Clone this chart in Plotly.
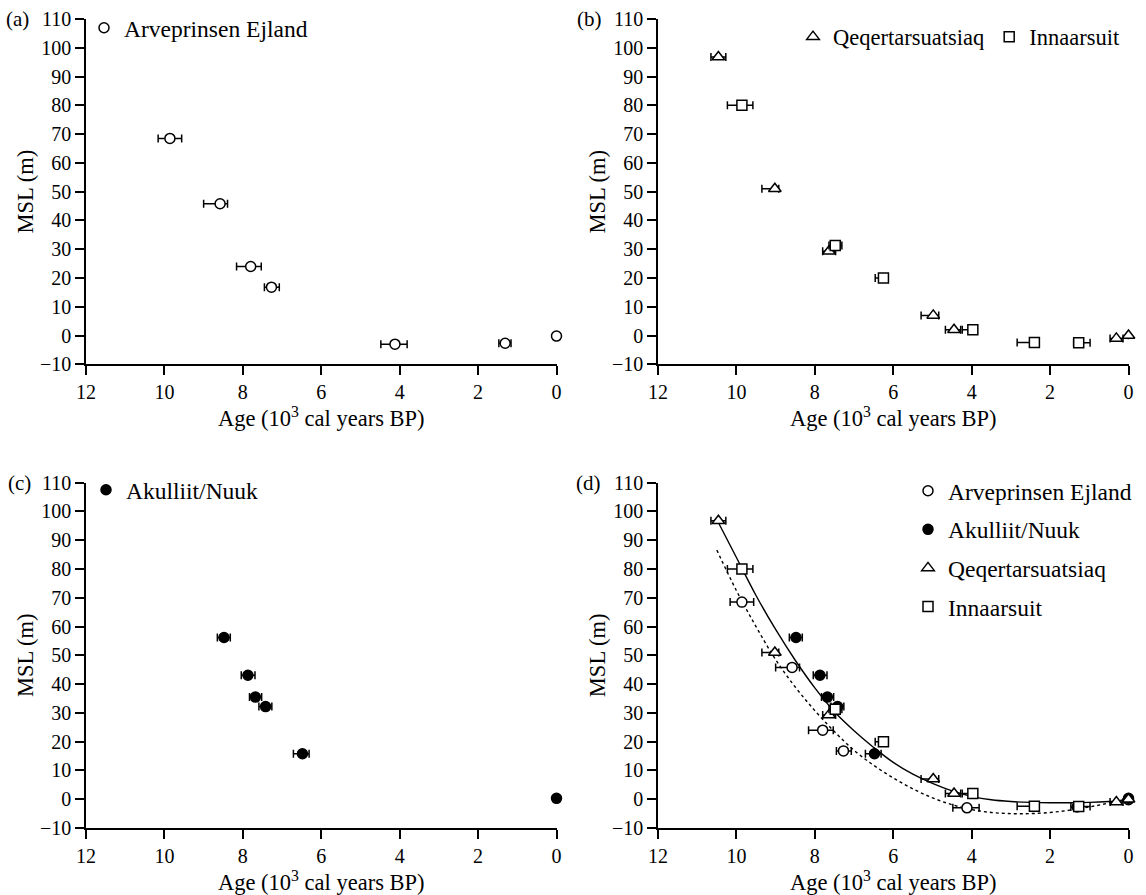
import plotly.graph_objects as go

# ---------------- data ----------------
# Arveprinsen Ejland
arv_age = [9.86, 8.58, 7.80, 7.27, 4.12, 1.31, 0.0]
arv_msl = [68.5, 45.8, 24.0, 16.8, -3.0, -2.7, -0.2]
arv_err_old = [0.30, 0.42, 0.36, 0.18, 0.36, 0.16, 0.0]
arv_err_young = [0.30, 0.19, 0.27, 0.20, 0.31, 0.15, 0.0]

# Akulliit/Nuuk
aku_age = [8.48, 7.87, 7.68, 7.42, 6.48, 0.0]
aku_msl = [56.2, 43.1, 35.5, 32.2, 15.8, 0.3]
aku_err_old = [0.17, 0.17, 0.15, 0.17, 0.23, 0.0]
aku_err_young = [0.16, 0.18, 0.16, 0.16, 0.17, 0.0]

# Qeqertarsuatsiaq
qeq_age = [10.46, 9.02, 7.64, 4.98, 4.45, 0.31, 0.0]
qeq_msl = [96.8, 51.0, 29.3, 7.0, 2.0, -1.0, 0.0]
qeq_err_old = [0.19, 0.33, 0.16, 0.31, 0.22, 0.16, 0.0]
qeq_err_young = [0.19, 0.10, 0.17, 0.14, 0.17, 0.17, 0.0]

# Innaarsuit
inn_age = [9.86, 7.48, 6.25, 3.97, 2.40, 1.27]
inn_msl = [80.0, 31.3, 20.0, 2.0, -2.4, -2.5]
inn_err_old = [0.37, 0.16, 0.21, 0.27, 0.44, 0.13]
inn_err_young = [0.28, 0.17, 0.10, 0.10, 0.12, 0.29]

# fitted sea-level curves (panel d)
curve_age = [10.5, 10.0, 9.5, 9.0, 8.5, 8.0, 7.5, 7.0, 6.5, 6.0, 5.5,
             5.0, 4.5, 4.0, 3.5, 3.0, 2.5, 2.0, 1.5, 1.0, 0.5, 0.0]
solid_msl = [97.2, 84.0, 70.8, 59.0, 48.3, 38.7, 30.4, 23.8, 18.0, 12.8, 8.7,
             5.5, 2.9, 1.0, -0.2, -0.8, -1.1, -1.2, -1.2, -1.1, -0.8, -0.3]
dotted_msl = [86.6, 72.5, 60.0, 48.5, 39.0, 30.8, 23.5, 17.0, 11.8, 7.4, 3.6,
              0.5, -1.9, -3.6, -4.6, -5.0, -5.0, -4.6, -3.8, -2.7, -1.3, 0.3]

x_ticks = [12, 10, 8, 6, 4, 2, 0]
y_ticks = [-10, 0, 10, 20, 30, 40, 50, 60, 70, 80, 90, 100, 110]

FONT = "Liberation Serif, serif"
W, H = 1146, 895

sites = {
    "Arveprinsen Ejland": dict(age=arv_age, msl=arv_msl, eo=arv_err_old, ey=arv_err_young,
                               symbol="circle", size=10, fill="white"),
    "Akulliit/Nuuk": dict(age=aku_age, msl=aku_msl, eo=aku_err_old, ey=aku_err_young,
                          symbol="circle", size=10, fill="black"),
    "Qeqertarsuatsiaq": dict(age=qeq_age, msl=qeq_msl, eo=qeq_err_old, ey=qeq_err_young,
                             symbol="triangle-up", size=11, fill="white"),
    "Innaarsuit": dict(age=inn_age, msl=inn_msl, eo=inn_err_old, ey=inn_err_young,
                       symbol="square", size=10, fill="white"),
}


def site_trace(name, xref, yref, legend):
    s = sites[name]
    return go.Scatter(
        x=s["age"], y=s["msl"], name=name, mode="markers",
        xaxis=xref, yaxis=yref, legend=legend, legendgroup=name + legend,
        cliponaxis=False,
        marker=dict(symbol=s["symbol"], size=s["size"], color=s["fill"],
                    line=dict(color="black", width=1.5)),
        error_x=dict(type="data", symmetric=False, array=s["eo"], arrayminus=s["ey"],
                     color="black", thickness=1.5, width=4),
    )


fig = go.Figure()
fig.add_trace(site_trace("Arveprinsen Ejland", "x", "y", "legend"))
fig.add_trace(site_trace("Qeqertarsuatsiaq", "x2", "y2", "legend2"))
fig.add_trace(site_trace("Innaarsuit", "x2", "y2", "legend2"))
fig.add_trace(site_trace("Akulliit/Nuuk", "x3", "y3", "legend3"))

fig.add_trace(go.Scatter(x=curve_age, y=solid_msl, mode="lines", showlegend=False,
                         xaxis="x4", yaxis="y4", line=dict(color="black", width=1.4, shape="spline")))
fig.add_trace(go.Scatter(x=curve_age, y=dotted_msl, mode="lines", showlegend=False,
                         xaxis="x4", yaxis="y4",
                         line=dict(color="black", width=1.4, dash="dot", shape="spline")))
for nm in ["Arveprinsen Ejland", "Akulliit/Nuuk", "Qeqertarsuatsiaq", "Innaarsuit"]:
    fig.add_trace(site_trace(nm, "x4", "y4", "legend4"))

x_dom_left = [86 / W, 556.5 / W]
x_dom_right = [658 / W, 1128.5 / W]
y_dom_top = [1 - 364.3 / H, 1 - 19 / H]
y_dom_bot = [1 - 828 / H, 1 - 482.7 / H]

axis_common = dict(showline=True, linecolor="black", linewidth=1.5, ticks="outside",
                   ticklen=9, tickwidth=1.5, tickcolor="black", showgrid=False,
                   zeroline=False, automargin=False,
                   tickfont=dict(family=FONT, size=20, color="black"))

xtitle = dict(text="Age (10<sup>3</sup> cal years BP)",
              font=dict(family=FONT, size=22.5, color="black"), standoff=6)
ytitle = dict(text="MSL (m)", font=dict(family=FONT, size=22.5, color="black"), standoff=0)

layout = dict(width=W, height=H, margin=dict(l=0, r=0, t=0, b=0, autoexpand=False),
              paper_bgcolor="white", plot_bgcolor="white",
              font=dict(family=FONT, color="black"))

panels = [("", "", x_dom_left, y_dom_top), ("2", "2", x_dom_right, y_dom_top),
          ("3", "3", x_dom_left, y_dom_bot), ("4", "4", x_dom_right, y_dom_bot)]
for xi, yi, xd, yd in panels:
    layout["xaxis" + xi] = dict(axis_common, domain=xd, range=[12, 0], tickvals=x_ticks,
                                anchor="y" + yi, title=xtitle)
    layout["yaxis" + yi] = dict(axis_common, domain=yd, range=[-10, 110], tickvals=y_ticks,
                                anchor="x" + xi, title=ytitle)

leg_common = dict(bgcolor="rgba(0,0,0,0)", borderwidth=0,
                  font=dict(family=FONT, size=23.5, color="black"), itemclick=False)
layout["legend"] = dict(leg_common, x=84 / W, y=1 - 28 / H, xanchor="left", yanchor="middle")
layout["legend2"] = dict(leg_common, x=793 / W, y=1 - 37 / H, xanchor="left", yanchor="middle",
                         orientation="h", font=dict(family=FONT, size=22.5, color="black"))
layout["legend3"] = dict(leg_common, x=86 / W, y=1 - 490 / H, xanchor="left", yanchor="middle")
layout["legend4"] = dict(leg_common, x=908 / W, y=1 - 469 / H, xanchor="left", yanchor="top",
                         tracegroupgap=5)

labels = [("(a)", 4, 19), ("(b)", 575, 19), ("(c)", 6, 483), ("(d)", 574, 483)]
layout["annotations"] = [
    dict(text=t, x=px / W, y=1 - py / H, xref="paper", yref="paper", xanchor="left",
         yanchor="middle", showarrow=False, font=dict(family=FONT, size=21, color="black"))
    for t, px, py in labels
]

fig.update_layout(**layout)
fig.write_html("out.html")
